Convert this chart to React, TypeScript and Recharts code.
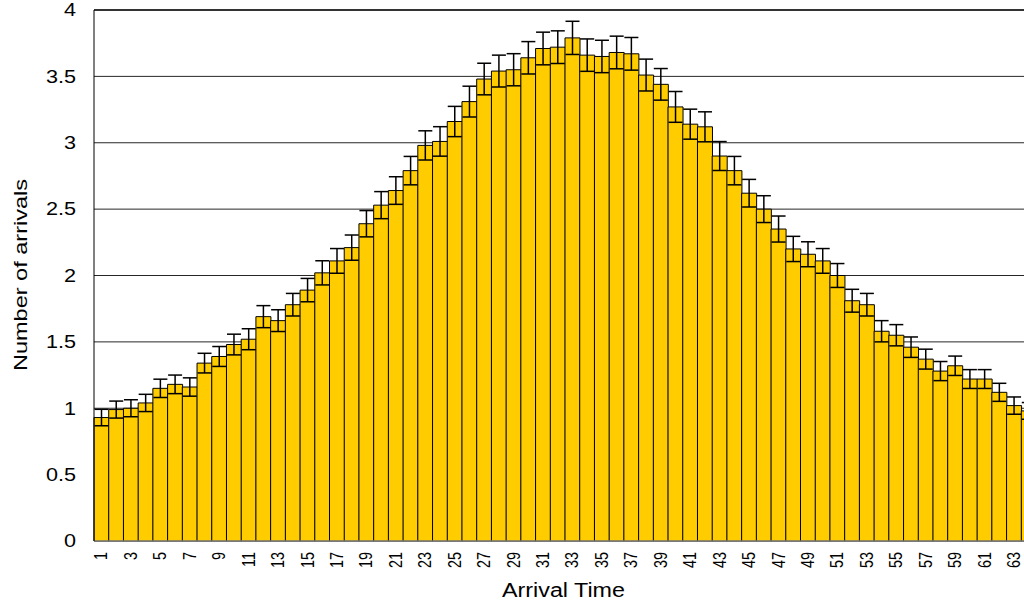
import React from 'react'
import {
  BarChart,
  Bar,
  XAxis,
  YAxis,
  CartesianGrid,
  ErrorBar,
  ReferenceLine,
  Label,
} from 'recharts'

const times = [
  1, 2, 3, 4, 5, 6, 7, 8, 9, 10, 11, 12, 13, 14, 15, 16, 17, 18, 19, 20, 21, 22,
  23, 24, 25, 26, 27, 28, 29, 30, 31, 32, 33, 34, 35, 36, 37, 38, 39, 40, 41, 42,
  43, 44, 45, 46, 47, 48, 49, 50, 51, 52, 53, 54, 55, 56, 57, 58, 59, 60, 61, 62,
  63, 64,
]

const arrivals = [
  0.93, 0.99, 1.0, 1.04, 1.15, 1.18, 1.16, 1.34, 1.39, 1.48, 1.52, 1.69, 1.66,
  1.78, 1.89, 2.02, 2.11, 2.21, 2.39, 2.53, 2.64, 2.79, 2.98, 3.01, 3.16, 3.31,
  3.48, 3.54, 3.55, 3.64, 3.71, 3.72, 3.79, 3.66, 3.65, 3.68, 3.67, 3.51, 3.44,
  3.27, 3.14, 3.12, 2.9, 2.79, 2.62, 2.5, 2.35, 2.2, 2.16, 2.11, 2.0, 1.81, 1.78,
  1.58, 1.55, 1.46, 1.37, 1.28, 1.32, 1.22, 1.22, 1.12, 1.02, 0.98,
]

const errors = [
  0.062, 0.064, 0.064, 0.065, 0.069, 0.07, 0.069, 0.074, 0.075, 0.078, 0.079,
  0.083, 0.082, 0.085, 0.088, 0.091, 0.093, 0.095, 0.099, 0.102, 0.104, 0.107,
  0.11, 0.111, 0.114, 0.116, 0.119, 0.12, 0.121, 0.122, 0.123, 0.123, 0.125,
  0.122, 0.122, 0.123, 0.123, 0.12, 0.119, 0.116, 0.113, 0.113, 0.109, 0.107,
  0.104, 0.101, 0.098, 0.095, 0.094, 0.093, 0.09, 0.086, 0.085, 0.08, 0.08,
  0.077, 0.075, 0.072, 0.073, 0.071, 0.071, 0.068, 0.065, 0.063,
]

const yTicks = [0, 0.5, 1, 1.5, 2, 2.5, 3, 3.5, 4]

const data = times.map((t, i) => ({ t, value: arrivals[i], err: errors[i] }))

const font = 'Liberation Sans, Arial, sans-serif'

const XTick = ({ x, y, payload }: any) => (
  <text
    transform={`translate(${x},${y + 3}) rotate(-90) scale(0.9,1.15)`}
    textAnchor="end"
    dominantBaseline="central"
    fontSize={16}
    fontFamily={font}
    fill="#000"
  >
    {payload.value}
  </text>
)

const YTick = ({ x, y, payload }: any) => (
  <text
    transform={`translate(${x},${y}) scale(1.2,1)`}
    textAnchor="end"
    dominantBaseline="central"
    fontSize={18}
    fontFamily={font}
    fill="#000"
  >
    {payload.value}
  </text>
)

const App = () => {
  return (
    <div
      style={{
        position: 'fixed',
        left: 0,
        top: 0,
        width: 1024,
        height: 608,
        overflow: 'hidden',
        background: '#fff',
      }}
    >
      <BarChart
        width={1046}
        height={608}
        data={data}
        margin={{ top: 10, right: 10, left: 0, bottom: 0 }}
        barCategoryGap={0}
      >
        <CartesianGrid vertical={false} stroke="#000" strokeWidth={1} strokeOpacity={0.85} />
        <XAxis
          dataKey="t"
          interval={1}
          tickLine={false}
          axisLine={{ stroke: '#aaa' }}
          height={67}
          tick={<XTick />}
        >
          <Label
            content={() => (
              <text
                x={563.5}
                y={597}
                textAnchor="middle"
                fontSize={20}
                fontFamily={font}
                textLength={123}
                lengthAdjust="spacingAndGlyphs"
                fill="#000"
              >
                Arrival Time
              </text>
            )}
          />
        </XAxis>
        <YAxis
          domain={[0, 4]}
          ticks={yTicks}
          width={94}
          tickLine={false}
          tickSize={8}
          tickMargin={10}
          axisLine={{ stroke: '#000' }}
          tick={<YTick />}
        >
          <Label
            content={() => (
              <text
                transform="translate(20,275) rotate(-90)"
                textAnchor="middle"
                dominantBaseline="central"
                fontSize={19}
                fontFamily={font}
                textLength={192}
                lengthAdjust="spacingAndGlyphs"
                fill="#000"
              >
                Number of arrivals
              </text>
            )}
          />
        </YAxis>
        <Bar dataKey="value" fill="#FFCC00" stroke="#000" strokeWidth={1} isAnimationActive={false}>
          <ErrorBar dataKey="err" width={7} stroke="#000" strokeWidth={1.5} isAnimationActive={false} />
        </Bar>
        <ReferenceLine y={4} stroke="#333" strokeWidth={2} />
      </BarChart>
    </div>
  )
}

export default App
